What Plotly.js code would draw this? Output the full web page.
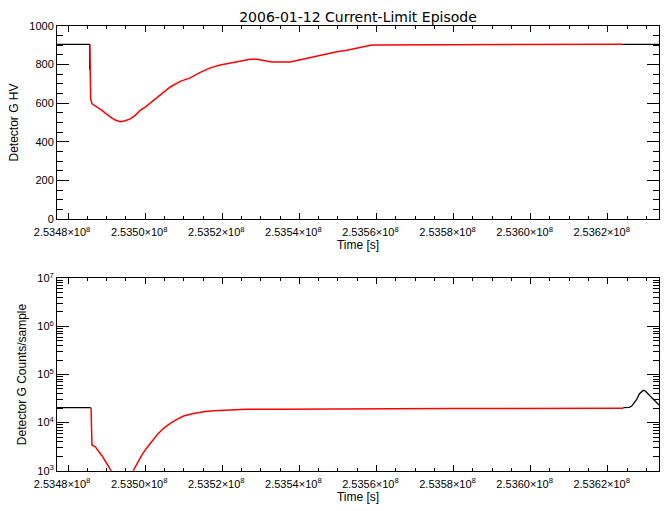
<!DOCTYPE html>
<html>
<head>
<meta charset="utf-8">
<script src="https://cdn.plot.ly/plotly-3.0.1.min.js"></script>
<style>html,body{margin:0;padding:0;background:#fff;}#chart{width:670px;height:511px;}</style>
</head>
<body>
<div id="chart"></div>
<script>
// ---- Data ----
const chartTitle = "2006-01-12 Current-Limit Episode";
const xTitle = "Time [s]";
const hvTitle = "Detector G HV";
const cntTitle = "Detector G Counts/sample";

const xRange = [253477122, 253633300];
const xTickVals = [253480000, 253500000, 253520000, 253540000, 253560000, 253580000, 253600000, 253620000];
const xTickText = ["2.5348×10<sup>8</sup>", "2.5350×10<sup>8</sup>", "2.5352×10<sup>8</sup>", "2.5354×10<sup>8</sup>",
                   "2.5356×10<sup>8</sup>", "2.5358×10<sup>8</sup>", "2.5360×10<sup>8</sup>", "2.5362×10<sup>8</sup>"];

// HV panel: nominal (black) segments
const hvBlackT1 = [253477122, 253485575, 253485600];
const hvBlackV1 = [905, 905, 775];
const hvBlackT2 = [253623784, 253633300];
const hvBlackV2 = [905, 905];
// HV panel: current-limit (red) segment
const hvRedT = [253485650, 253485700, 253485850, 253486197, 253487053, 253487909, 253488790, 253489646,
                253490502, 253491383, 253492239, 253493535, 253494832, 253496128, 253497425, 253498721,
                253500018, 253501314, 253502611, 253503907, 253505645, 253506500, 253509093, 253511686,
                253514279, 253516872, 253519465, 253522058, 253524651, 253527244, 253528982, 253530278,
                253532871, 253535464, 253537616, 253539354, 253541947, 253544540, 253547133, 253549726,
                253552319, 253554912, 253557505, 253558801, 253623784];
const hvRedV = [905, 780, 623, 597, 587, 575, 563, 549,
                535, 523, 513, 504, 509, 519, 537, 563,
                580, 601, 623, 641, 670, 684, 713, 731,
                760, 783, 798, 809, 817, 828, 828, 822,
                814, 814, 814, 821, 833, 843, 856, 866,
                874, 885, 895, 902, 905];

// Counts panel: nominal (black) segments
const cBlackT1 = [253477122, 253485900];
const cBlackV1 = [20400, 20400];
const cBlackT2 = [253624041, 253625597, 253626219, 253626816, 253627516, 253628190, 253628813, 253629227,
                  253629746, 253630524, 253631146, 253631820, 253632702, 253633298];
const cBlackV2 = [20400, 20800, 22100, 25200, 30500, 39300, 43900, 47000,
                  45400, 39300, 34500, 29500, 25200, 23200];
// Counts panel: current-limit (red) segment
const cRedT = [253485950, 253486000, 253486197, 253487053, 253487909, 253488790, 253489646, 253490502,
               253491124, 253492498, 253493976, 253495350, 253496829, 253497866, 253499162, 253500459,
               253501755, 253503052, 253504763, 253506500, 253508238, 253509949, 253512542, 253515135,
               253517728, 253522058, 253526389, 253535023, 253553174, 253579104, 253624041];
const cRedV = [20400, 5500, 3420, 3150, 2610, 2050, 1590, 1210,
               1000, 600, 420, 600, 1000, 1430, 2130, 3010,
               4150, 5500, 7600, 9660, 11700, 13700, 15500, 16900,
               17700, 18500, 18900, 19000, 19400, 19700, 19800];

const logTickVals = [1e3, 1e4, 1e5, 1e6, 1e7];
const logTickText = ["10<sup>3</sup>", "10<sup>4</sup>", "10<sup>5</sup>", "10<sup>6</sup>", "10<sup>7</sup>"];
const logMinorVals = [];
[1e3, 1e4, 1e5, 1e6].forEach(d => { for (let k = 2; k <= 9; k++) logMinorVals.push(d * k); });

// ---- Traces ----
const black = {color: "#000000", width: 1.3};
const red = {color: "#ff0000", width: 1.5};
const traces = [
  {x: hvBlackT1, y: hvBlackV1, mode: "lines", line: black, xaxis: "x", yaxis: "y", hoverinfo: "skip"},
  {x: hvBlackT2, y: hvBlackV2, mode: "lines", line: black, xaxis: "x", yaxis: "y", hoverinfo: "skip"},
  {x: hvRedT, y: hvRedV, mode: "lines", line: red, xaxis: "x", yaxis: "y", hoverinfo: "skip"},
  {x: cBlackT1, y: cBlackV1, mode: "lines", line: black, xaxis: "x2", yaxis: "y2", hoverinfo: "skip"},
  {x: cBlackT2, y: cBlackV2, mode: "lines", line: black, xaxis: "x2", yaxis: "y2", hoverinfo: "skip"},
  {x: cRedT, y: cRedV, mode: "lines", line: red, xaxis: "x2", yaxis: "y2", hoverinfo: "skip"}
];

const fam = "Liberation Sans, Arial, sans-serif";
const narrow = "Liberation Sans Narrow, Liberation Sans, Arial, sans-serif";
const font = {family: fam, size: 11, color: "#000"};
const xDomain = [57/670, 659/670];

function xAxis(anchor) {
  return {
    domain: xDomain, anchor: anchor, range: xRange, showgrid: false, zeroline: false,
    showline: true, linecolor: "#000", linewidth: 1, mirror: "ticks",
    ticks: "inside", ticklen: 6, tickcolor: "#000", tickwidth: 1,
    tickmode: "array", tickvals: xTickVals, ticktext: xTickText,
    tickfont: {family: narrow, size: 11, color: "#000"},
    ticklabelstandoff: 3, ticklabelshift: -6,
    minor: {ticks: "inside", ticklen: 3, dtick: 5000, tick0: 253480000, tickcolor: "#000", showgrid: false},
    title: {text: xTitle, font: {family: fam, size: 12, color: "#000"}, standoff: 1},
    fixedrange: true
  };
}

const layout = {
  width: 670, height: 511,
  margin: {l: 0, r: 0, t: 0, b: 0, autoexpand: false},
  paper_bgcolor: "#fff", plot_bgcolor: "#fff",
  showlegend: false,
  font: font,
  title: {text: chartTitle, font: {family: "DejaVu Sans, sans-serif", size: 14, color: "#000"},
          x: 358/670, xanchor: "center", y: 1 - 17/511, yanchor: "middle"},
  xaxis: xAxis("y"),
  xaxis2: xAxis("y2"),
  yaxis: {
    domain: [1 - 219/511, 1 - 26/511], anchor: "x", range: [0, 1000],
    showgrid: false, zeroline: false, showline: true, linecolor: "#000", mirror: "ticks",
    ticks: "inside", ticklen: 12, tickcolor: "#000", dtick: 200, tick0: 0,
    tickfont: {family: fam, size: 11, color: "#000"},
    minor: {ticks: "inside", ticklen: 6, dtick: 50, tickcolor: "#000", showgrid: false},
    title: {text: hvTitle, font: {family: fam, size: 12, color: "#000"}, standoff: 8},
    fixedrange: true
  },
  yaxis2: {
    domain: [1 - 470.7/511, 1 - 278.3/511], anchor: "x2", type: "log", range: [3, 7],
    showgrid: false, zeroline: false, showline: true, linecolor: "#000", mirror: "ticks",
    ticks: "inside", ticklen: 12, tickcolor: "#000",
    tickmode: "array", tickvals: logTickVals, ticktext: logTickText,
    tickfont: {family: fam, size: 11, color: "#000"},
    minor: {ticks: "inside", ticklen: 6, tickmode: "array", tickvals: logMinorVals, tickcolor: "#000", showgrid: false},
    title: {text: cntTitle, font: {family: fam, size: 12, color: "#000"}, standoff: 8},
    fixedrange: true
  }
};

Plotly.newPlot("chart", traces, layout, {staticPlot: true, displayModeBar: false});
</script>
</body>
</html>
